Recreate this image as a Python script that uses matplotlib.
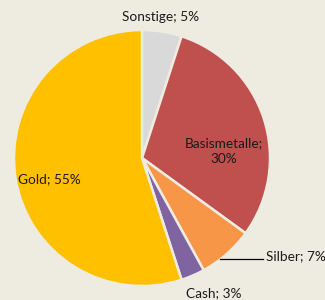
import matplotlib.pyplot as plt

labels = ["Sonstige", "Basismetalle", "Silber", "Cash", "Gold"]
shares = [5, 30, 7, 3, 55]
colors = ["#D9D9D9", "#C0504D", "#F79646", "#8064A2", "#FFC000"]
explode = [0.035, 0.02, 0.02, 0.025, 0.035]

bg = "#EEECE1"
plt.rcParams["font.family"] = ["Lato", "DejaVu Sans"]

fig = plt.figure(figsize=(3.25, 3.0), dpi=100, facecolor=bg)
ax = fig.add_axes([0, 0, 1, 1])
ax.set_facecolor(bg)

# axes in pixel units, origin bottom-left
wedges, _ = ax.pie(
    shares,
    colors=colors,
    explode=explode,
    startangle=90,
    counterclock=False,
    center=(142, 142),
    radius=128,
    wedgeprops=dict(edgecolor=bg, linewidth=1.8),
    frame=True,
)
ax.set_xlim(0, 325)
ax.set_ylim(0, 300)
ax.set_aspect("equal")
ax.axis("off")

fs = 9.8
txt = "#1a1a1a"
ax.text(161, 283, f"{labels[0]}; {shares[0]}%", ha="center", va="center", fontsize=fs, color=txt)
ax.text(224, 149, f"{labels[1]};\n{shares[1]}%", ha="center", va="center", fontsize=fs,
        color=txt, linespacing=1.35)
ax.plot([220, 263], [41, 41], color="black", lw=0.9)
ax.text(266, 44, f"{labels[2]}; {shares[2]}%", ha="left", va="center", fontsize=fs, color=txt)
ax.text(214, 7, f"{labels[3]}; {shares[3]}%", ha="center", va="center", fontsize=fs, color=txt)
ax.text(49, 121, f"{labels[4]}; {shares[4]}%", ha="center", va="center", fontsize=fs, color=txt)

fig.savefig("out.png", dpi=100, facecolor=bg)
